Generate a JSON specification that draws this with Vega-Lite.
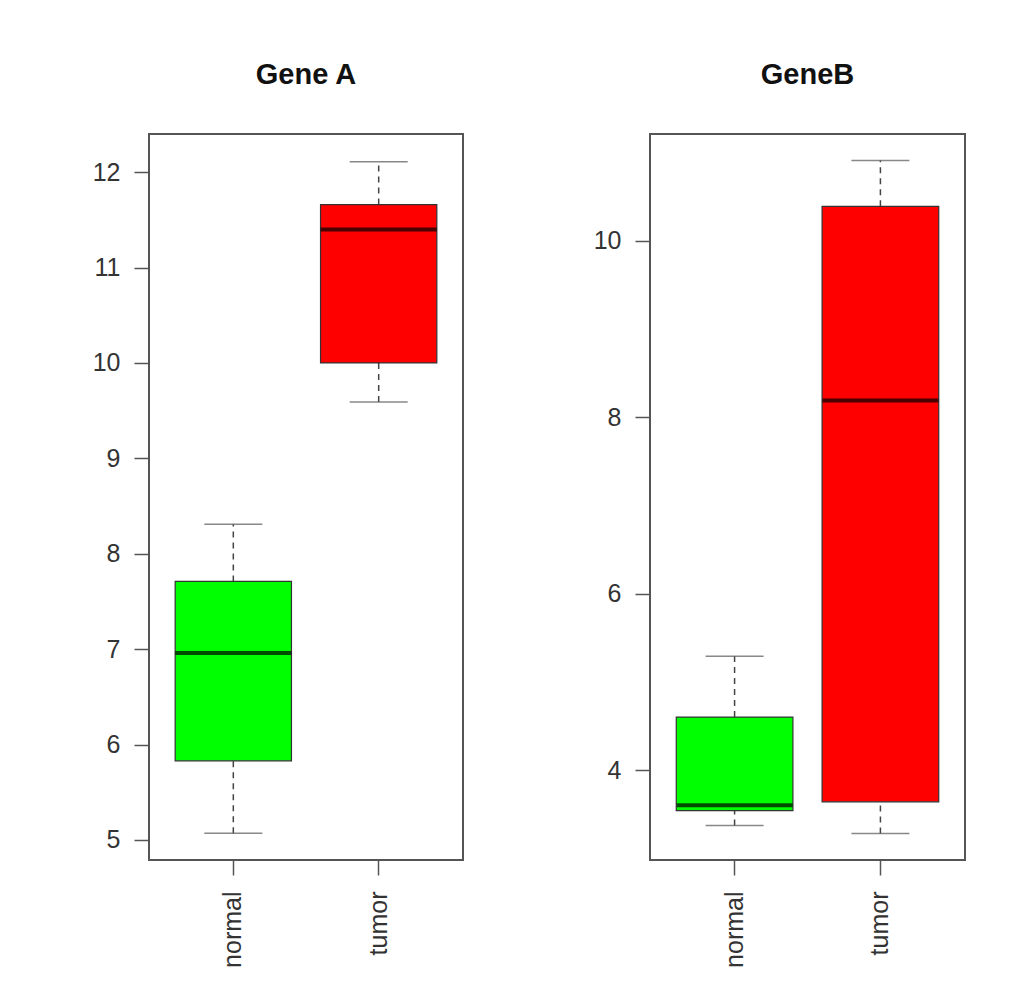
{
  "$schema": "https://vega.github.io/schema/vega-lite/v6.json",
  "background": "white",
  "padding": {"left": 91, "top": 60, "right": 0, "bottom": 0},
  "data": {"values": [
    {"gene": "Gene A", "group": "normal", "lo": 5.07, "q1": 5.83, "med": 6.96, "q3": 7.71, "hi": 8.31},
    {"gene": "Gene A", "group": "tumor", "lo": 9.59, "q1": 10.0, "med": 11.4, "q3": 11.66, "hi": 12.11},
    {"gene": "GeneB", "group": "normal", "lo": 3.37, "q1": 3.54, "med": 3.6, "q3": 4.6, "hi": 5.29},
    {"gene": "GeneB", "group": "tumor", "lo": 3.28, "q1": 3.64, "med": 8.19, "q3": 10.39, "hi": 10.91}
  ]},
  "spacing": 128,
  "config": {
    "view": {"stroke": "#555", "strokeWidth": 2},
    "axis": {"labelFont": "Liberation Sans", "labelFontSize": 25, "labelColor": "#333", "tickColor": "#555", "tickWidth": 1.5, "tickSize": 15, "labelPadding": 14, "domain": false, "grid": false, "title": null},
    "axisX": {"labelPadding": 16},
    "axisY": {"format": "d"},
    "title": {"font": "Liberation Sans", "fontSize": 29, "fontWeight": "bold", "color": "#111", "offset": 44}
  },
  "hconcat": [
    {
      "title": "Gene A",
      "width": 314, "height": 726,
      "transform": [{"filter": "datum.gene == 'Gene A'"}],
      "encoding": {"x": {"field": "group", "type": "nominal", "scale": {"paddingInner": 0.2, "paddingOuter": 0.18}, "axis": {"labelAngle": -90, "title": null}}},
      "layer": [
        {"mark": {"type": "rule", "strokeDash": [6, 5], "color": "#444", "strokeWidth": 1.5},
         "encoding": {"y": {"field": "lo", "type": "quantitative", "scale": {"domain": [4.79, 12.4], "nice": false, "zero": false}, "axis": {"values": [5, 6, 7, 8, 9, 10, 11, 12]}}, "y2": {"field": "q1"}}},
        {"mark": {"type": "rule", "strokeDash": [6, 5], "color": "#444", "strokeWidth": 1.5},
         "encoding": {"y": {"field": "q3", "type": "quantitative"}, "y2": {"field": "hi"}}},
        {"mark": {"type": "tick", "size": 58, "thickness": 1.5, "color": "#555"},
         "encoding": {"y": {"field": "lo", "type": "quantitative"}}},
        {"mark": {"type": "tick", "size": 58, "thickness": 1.5, "color": "#555"},
         "encoding": {"y": {"field": "hi", "type": "quantitative"}}},
        {"mark": {"type": "bar", "stroke": "#333", "strokeWidth": 1.2},
         "encoding": {"y": {"field": "q1", "type": "quantitative"}, "y2": {"field": "q3"},
           "color": {"field": "group", "type": "nominal", "scale": {"domain": ["normal", "tumor"], "range": ["#00ff00", "#ff0000"]}, "legend": null}}},
        {"mark": {"type": "tick", "size": 116, "thickness": 4, "color": "black"},
         "encoding": {"y": {"field": "med", "type": "quantitative"}}}
      ]
    },
    {
      "title": "GeneB",
      "width": 315, "height": 726,
      "transform": [{"filter": "datum.gene == 'GeneB'"}],
      "encoding": {"x": {"field": "group", "type": "nominal", "scale": {"paddingInner": 0.2, "paddingOuter": 0.18}, "axis": {"labelAngle": -90, "title": null}}},
      "layer": [
        {"mark": {"type": "rule", "strokeDash": [6, 5], "color": "#444", "strokeWidth": 1.5},
         "encoding": {"y": {"field": "lo", "type": "quantitative", "scale": {"domain": [2.98, 11.21], "nice": false, "zero": false}, "axis": {"values": [4, 6, 8, 10]}}, "y2": {"field": "q1"}}},
        {"mark": {"type": "rule", "strokeDash": [6, 5], "color": "#444", "strokeWidth": 1.5},
         "encoding": {"y": {"field": "q3", "type": "quantitative"}, "y2": {"field": "hi"}}},
        {"mark": {"type": "tick", "size": 58, "thickness": 1.5, "color": "#555"},
         "encoding": {"y": {"field": "lo", "type": "quantitative"}}},
        {"mark": {"type": "tick", "size": 58, "thickness": 1.5, "color": "#555"},
         "encoding": {"y": {"field": "hi", "type": "quantitative"}}},
        {"mark": {"type": "bar", "stroke": "#333", "strokeWidth": 1.2},
         "encoding": {"y": {"field": "q1", "type": "quantitative"}, "y2": {"field": "q3"},
           "color": {"field": "group", "type": "nominal", "scale": {"domain": ["normal", "tumor"], "range": ["#00ff00", "#ff0000"]}, "legend": null}}},
        {"mark": {"type": "tick", "size": 116, "thickness": 4, "color": "black"},
         "encoding": {"y": {"field": "med", "type": "quantitative"}}}
      ]
    }
  ]
}
